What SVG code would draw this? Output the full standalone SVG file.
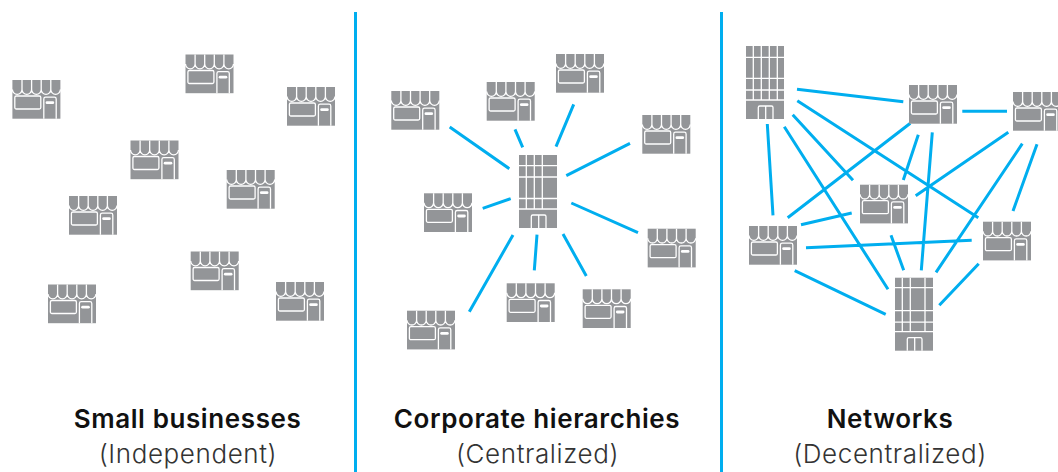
<svg xmlns="http://www.w3.org/2000/svg" xmlns:xlink="http://www.w3.org/1999/xlink" width="1058" height="472" viewBox="0 0 1058 472">
<style>
.c{stroke:#00aeef;stroke-width:3;fill:none}
.d{stroke:#00aeef;stroke-width:3;fill:none}
.b{fill:#939598}
.w{fill:none;stroke:#fff;stroke-width:1.3}
.t{font-family:Inter,"Liberation Sans",sans-serif;font-size:26px;letter-spacing:.6px;font-weight:600;fill:#111;text-anchor:middle}
.s{font-family:Inter,"Liberation Sans",sans-serif;font-size:26px;letter-spacing:.6px;font-weight:300;fill:#333;text-anchor:middle}
</style>
<defs>
<g id="shop">
<rect class="b" width="48" height="38.7"/>
<path class="w" d="M0 9.5a4.8 4.8 0 0 0 9.6 0a4.8 4.8 0 0 0 9.6 0a4.8 4.8 0 0 0 9.6 0a4.8 4.8 0 0 0 9.6 0a4.8 4.8 0 0 0 9.6 0M9.6 0V9.5M19.2 0V9.5M28.8 0V9.5M38.4 0V9.5"/>
<rect class="w" x="2.4" y="16" width="26" height="13" rx="1.5"/>
<path class="w" d="M31.4 38.7V19a1.8 1.8 0 0 1 1.8-1.8H42a1.8 1.8 0 0 1 1.8 1.8V38.7"/>
<rect x="33.2" y="21.3" width="8.6" height="2.8" rx="1.4" fill="#fff"/>
</g>
<g id="base">
<rect class="b" width="38" height="73"/>
<path class="w" d="M0 54H38"/>
<path class="w" d="M12.3 73V61.5a1.5 1.5 0 0 1 1.5-1.5H25.5a1.5 1.5 0 0 1 1.5 1.5V73M19.7 60V73"/>
</g>
</defs>
<g id="connectors">
<line class="d" x1="355.5" y1="12" x2="355.5" y2="472"/>
<line class="d" x1="721.5" y1="12" x2="721.5" y2="472"/>
<path class="c" d="M449.7 127L509.3 168.7M515 129.3L522.7 147.3M573.7 104.3L556 146.7M630 143.3L566.3 175.7M482.7 208.3L510.7 198.7M571.3 203L638 232.7M513 235L469.3 311.7M537 234.7L534.3 270.3M563 234L586.3 276"/>
<path class="c" d="M797 89.3L903.3 101.7M797.3 100.7L978.3 217.7M792.7 114.7L853 180.3M784.3 126.7L888 289.3M767.3 124L773 215.3M910.3 123.3L787.7 217.7M918.3 134.7L903.3 180M932.3 132.3L921.3 270.3M962.3 111.3L1007 111.3M1008.3 132.3L915.7 195.7M1022.3 143.7L936 272.3M1037 144.3L1013 211M801 224.7L851.7 213M806 247.7L971.7 240.3M794.7 270.7L885.7 314.3M891 235.3L903.7 270.3M978.7 263.7L939.3 305.3"/>
</g>
<g id="panel1-shops">
<use id="s1" href="#shop" x="12.4" y="80"/>
<use id="s2" href="#shop" x="185.5" y="54.5"/>
<use id="s3" href="#shop" x="287" y="87"/>
<use id="s4" href="#shop" x="130.5" y="140.5"/>
<use id="s5" href="#shop" x="226.7" y="170"/>
<use id="s6" href="#shop" x="69" y="196"/>
<use id="s7" href="#shop" x="190.7" y="251.5"/>
<use id="s8" href="#shop" x="48" y="284.5"/>
<use id="s9" href="#shop" x="276" y="282"/>
</g>
<g id="panel2-shops">
<use id="s10" href="#shop" x="391.3" y="91"/>
<use id="s11" href="#shop" x="486.7" y="82"/>
<use id="s12" href="#shop" x="556" y="54"/>
<use id="s13" href="#shop" x="642.3" y="115"/>
<use id="s14" href="#shop" x="424" y="193.3"/>
<use id="s15" href="#shop" x="647.7" y="228.7"/>
<use id="s16" href="#shop" x="506.7" y="283.3"/>
<use id="s17" href="#shop" x="582.7" y="289.3"/>
<use id="s18" href="#shop" x="407" y="310.7"/>
</g>
<g id="hq" transform="translate(519 155)">
<use href="#base"/>
<path class="w" d="M7.3 0V54M15.3 0V54M23.3 0V54M0 10.7H38M0 22H38M0 43.5H38"/>
</g>
<g id="panel3-shops">
<use id="s19" href="#shop" x="909" y="85"/>
<use id="s20" href="#shop" x="1013" y="92"/>
<use id="s21" href="#shop" x="860" y="184.7"/>
<use id="s22" href="#shop" x="749" y="226"/>
<use id="s23" href="#shop" x="983" y="221.7"/>
</g>
<g id="tower1" transform="translate(746 46)">
<use href="#base"/>
<path class="w" d="M7.3 0V54M15.3 0V54M23.3 0V54M31.3 0V54M0 11.3H38M0 32.3H38M0 44H38"/>
</g>
<g id="tower2" transform="translate(895 277.7)">
<use href="#base"/>
<path class="w" d="M7.3 0V54M15.3 0V54M30 0V54M0 10H38M0 33H38M0 44.5H38"/>
</g>
<g id="labels">
<text class="t" x="187.5" y="428">Small businesses</text>
<text class="s" x="188" y="463">(Independent)</text>
<text class="t" x="537" y="428">Corporate hierarchies</text>
<text class="s" x="537.5" y="463">(Centralized)</text>
<text class="t" x="890" y="428">Networks</text>
<text class="s" x="890" y="463">(Decentralized)</text>
</g>
</svg>
